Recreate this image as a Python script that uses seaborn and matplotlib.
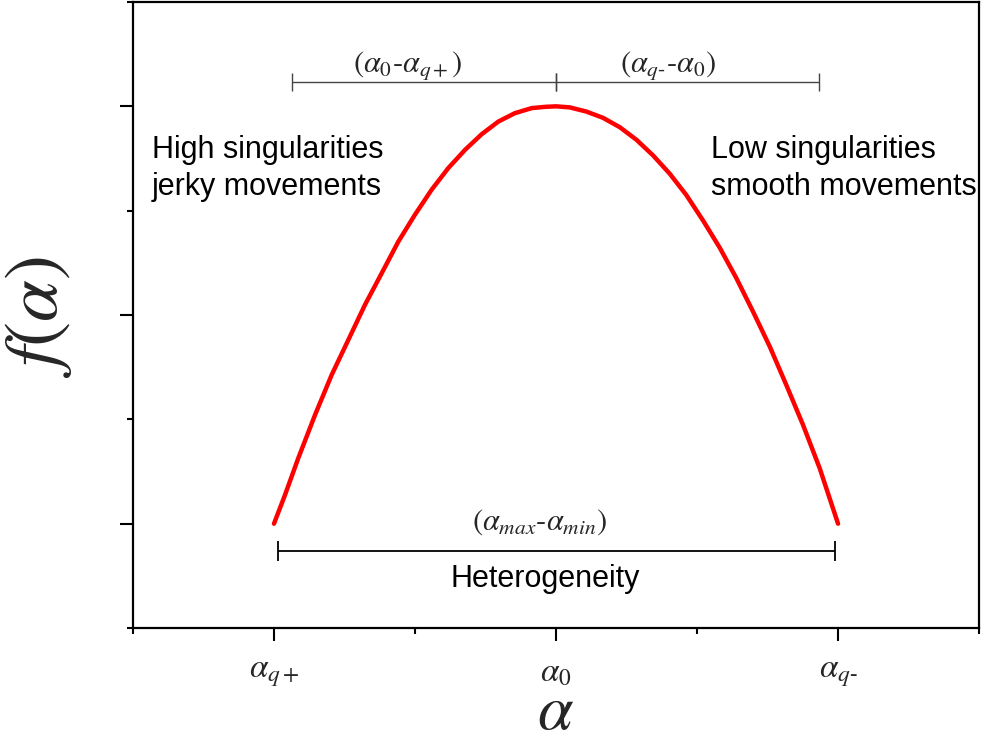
import numpy as np
import pandas as pd
import seaborn as sns
import matplotlib.pyplot as plt
from matplotlib.ticker import FixedLocator

# singularity spectrum
alpha = [1.0, 1.078, 1.172, 1.291, 1.409, 1.527, 1.645, 1.764, 1.882, 2.0,
         2.118, 2.236, 2.355, 2.473, 2.591, 2.709, 2.828, 2.922, 3.0, 3.097,
         3.215, 3.333, 3.452, 3.570, 3.688, 3.806, 3.924, 4.043, 4.161, 4.279,
         4.397, 4.516, 4.633, 4.752, 4.870, 5.0]
f_alpha = [1.0, 1.275, 1.627, 2.042, 2.426, 2.761, 3.097, 3.401, 3.704, 3.962,
           4.201, 4.408, 4.583, 4.733, 4.854, 4.935, 4.983, 4.995, 5.0, 4.990,
           4.950, 4.890, 4.800, 4.680, 4.530, 4.355, 4.150, 3.905, 3.645, 3.353,
           3.033, 2.697, 2.330, 1.946, 1.531, 1.0]

tick_pos = [1, 3, 5]
tick_labels = [r"$\alpha_{q+}$", r"$\alpha_{\mathit{0}}$", r"$\alpha_{q\text{-}}$"]
minor_pos = [0, 2, 4, 6]

# range bars: (start, end, height)
left_bar = (1.128, 3.0, 5.238)
right_bar = (3.0, 4.865, 5.238)
width_bar = (1.026, 4.979, 0.741)


def range_bar(ax, bar, color, lw, cap):
    x0, x1, y = bar
    ax.errorbar([(x0 + x1) / 2], [y], xerr=[(x1 - x0) / 2], fmt="none",
                ecolor=color, elinewidth=lw, capsize=cap, capthick=lw)


def main():
    sns.set_style("ticks")
    plt.rcParams["font.family"] = ["Liberation Sans", "DejaVu Sans"]
    plt.rcParams["mathtext.fontset"] = "stix"

    fig = plt.figure(figsize=(9.82, 7.38), dpi=100)
    ax = fig.add_axes([0.1354, 0.149, 0.8616, 0.8483])

    df = pd.DataFrame({"alpha": alpha, "f": f_alpha})
    sns.lineplot(data=df, x="alpha", y="f", color="#ff0000", lw=3.2, ax=ax)

    range_bar(ax, left_bar, "#444444", 1.0, 6.8)
    range_bar(ax, right_bar, "#444444", 1.0, 6.8)
    range_bar(ax, width_bar, "black", 1.3, 7.5)

    ax.set_xlim(0, 6)
    ax.set_ylim(0, 6)

    ax.xaxis.set_major_locator(FixedLocator(tick_pos))
    ax.xaxis.set_minor_locator(FixedLocator(minor_pos))
    ax.yaxis.set_major_locator(FixedLocator(tick_pos))
    ax.yaxis.set_minor_locator(FixedLocator(minor_pos))
    ax.set_xticklabels(tick_labels, fontsize=24)
    ax.set_yticklabels([])
    ax.tick_params(which="major", length=9.5, width=1.5, direction="out", pad=12, color="black")
    ax.tick_params(which="minor", length=4.5, width=1.5, direction="out", color="black")

    for s in ax.spines.values():
        s.set_visible(True)
        s.set_linewidth(1.6)
        s.set_color("black")

    ax.set_xlabel(r"$\alpha$", fontsize=46, va="center")
    ax.xaxis.set_label_coords(0.5, -0.134)
    ax.set_ylabel(r"$f(\alpha)$", fontsize=54, va="center")
    ax.yaxis.set_label_coords(-0.112, 0.497)

    txt = dict(fontsize=22, color="black", va="baseline")
    ax.text(0.135, 4.506, "High singularities", ha="left", **txt)
    ax.text(0.135, 4.151, "jerky movements", ha="left", **txt)
    ax.text(4.099, 4.506, "Low singularities", ha="left", **txt)
    ax.text(4.099, 4.151, "smooth movements", ha="left", **txt)
    ax.text(2.92, 0.393, "Heterogeneity", ha="center", **txt)

    ax.text(1.95, 5.33, r"$(\alpha_{\mathit{0}}\text{-}\alpha_{q+})$", ha="center", va="baseline", fontsize=22)
    ax.text(3.794, 5.33, r"$(\alpha_{q\text{-}}\text{-}\alpha_{\mathit{0}})$", ha="center", va="baseline", fontsize=22)
    ax.text(2.887, 0.94, r"$(\alpha_{max}\text{-}\alpha_{min})$", ha="center", va="baseline", fontsize=22)

    fig.savefig("out.png", dpi=100)


if __name__ == "__main__":
    main()
